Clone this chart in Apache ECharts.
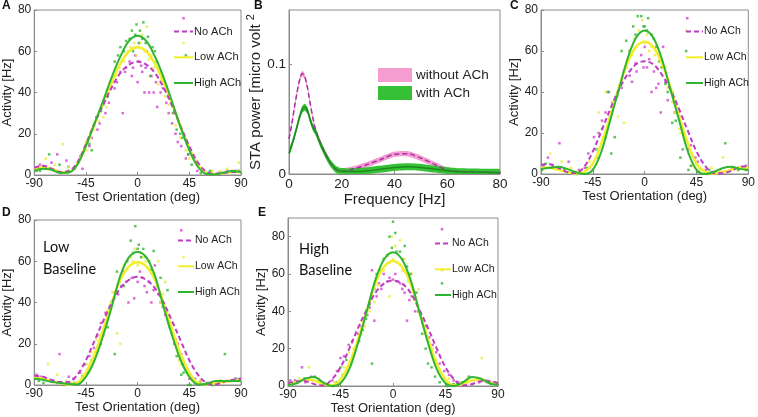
<!DOCTYPE html>
<html>
<head>
<meta charset="utf-8">
<script src="https://cdn.jsdelivr.net/npm/echarts@6/dist/echarts.min.js"></script>
<style>
  html, body { margin: 0; padding: 0; background: #fff; }
  #chart { width: 758px; height: 417px; }
</style>
</head>
<body>
<div id="chart"></div>
<script>
// orientation grid for the fitted tuning curves (deg)
var orient = [-90, -82.5, -75, -67.5, -60, -52.5, -45, -37.5, -30, -22.5, -15, -7.5, 0, 7.5, 15, 22.5, 30, 37.5, 45, 52.5, 60, 67.5, 75, 82.5, 90];

// panel A
var aNo = [3.5, 4.5, 3, 1.5, 1.8, 6, 15, 25, 34, 42.5, 49.5, 53.5, 55, 53.5, 49.5, 42.5, 33.5, 23.5, 14, 6, 1.5, 0.5, 1, 1.5, 1.5];
var aLow = [3, 4, 3, 1.5, 1.3, 5.5, 14.5, 25, 35, 45, 54, 60, 62, 60, 54, 45, 34.5, 23.5, 13, 5, 1, 0.5, 1, 1.5, 1.5];
var aHigh = [2, 3, 2.5, 1, 1.2, 5, 14, 25, 36, 47.5, 57.5, 65, 67.5, 65, 57.5, 47.5, 35.5, 23, 12, 4, 0.5, 0.3, 1.2, 2, 1.5];
// panel C
var cNo = [4.5, 4.8, 3, 1, 0.5, 3.5, 11, 21, 31.5, 41, 48.5, 53.5, 55, 53.5, 48.5, 41, 31.5, 21, 11, 4, 0.5, 0.4, 1.5, 3.5, 3.8];
var cLow = [3, 3, 2, 1, 0.3, 1, 5, 15, 28, 42, 54, 62, 64.5, 62, 54, 42, 28, 15, 5, 1, 0.3, 1, 2, 3, 3];
var cHigh = [2.5, 3, 3.5, 2.5, 1, 0, 2, 11, 26, 41, 56, 66.5, 70, 66.5, 56, 41, 26, 11, 2, 0, 1, 2.8, 3.5, 2.5, 2];
// panel D (low baseline)
var dNo = [4.5, 4, 2.5, 1.5, 1.5, 5, 12, 21.5, 31, 40, 47, 51, 52.5, 51, 47, 40, 31, 21.5, 12, 5, 1, 0.3, 1.5, 2.5, 3];
var dLow = [4, 3, 2, 1, 0.3, 1, 6, 15, 27, 40, 51, 57.5, 59.5, 57.5, 51, 40, 27, 15, 6, 1, 0.3, 1, 1.5, 2, 2.5];
var dHigh = [3, 2.5, 1.5, 1, 0.5, 0.3, 4, 12, 24, 38, 53, 62, 64.5, 62, 53, 38, 24, 12, 4, 0.3, 0.5, 2, 2, 2, 2];
// panel E (high baseline)
var eNo = [1.5, 2.5, 2.5, 1, 0.3, 3.5, 10, 20, 31, 41, 50, 55, 56.5, 55, 50, 41, 31, 20, 10, 3.5, 0.3, 1, 2.5, 2.5, 1.5];
var eLow = [1, 2, 3.5, 3, 1, 0.3, 3.5, 12, 25, 40, 55, 64, 67, 64, 55, 40, 25, 12, 3.5, 0.3, 1, 3, 3.5, 2, 1];
var eHigh = [0.5, 1.5, 4, 4.8, 2, 0, 1.5, 9, 23, 40, 57, 68, 71.7, 68, 57, 40, 23, 9, 1.5, 0, 2, 4.8, 4, 1.5, 0.5];

// single-trial points [deg, Hz]
var aNoPts = [[-85,5],[-80,4],[-75,6],[-70,10],[-62,7],[-55,3],[-48,3],[-42,14],[-35,22],[-28,30],[-20,42],[-15,50],[-13,30],[-10,52],[-5,48],[-2,58],[0,45],[3,53],[6,40],[8,60],[10,40],[14,40],[17,33],[22,42],[27,30],[33,20],[38,14],[40,76],[44,10],[52,2],[70,1],[85,2],
    [-40,18],[-33,25],[-25,35],[-18,45],[-11,50],[-7,55],[-4,52],[1,55],[4,50],[7,52],[12,48],[16,45],[20,40],[25,35],[30,25],[35,16],[42,8],[-60,4],[-88,3],[60,1],[78,2]];
var aLowPts = [[-87,3],[-80,8],[-72,5],[-65,15],[-57,3],[-50,8],[-45,16],[-44,12],[-38,22],[-30,28],[-25,40],[-22,45],[-16,52],[-8,60],[-3,64],[0,62],[4,68],[8,72],[12,58],[15,55],[18,44],[24,38],[30,30],[37,18],[40,64],[45,8],[55,3],[65,2],[78,3],[88,6],
    [-41,18],[-34,26],[-27,33],[-19,48],[-12,55],[-6,62],[-1,58],[2,64],[6,60],[10,56],[14,52],[20,46],[27,34],[33,24],[42,12],[-60,4],[-84,4],[58,1],[72,2]];
var aHighPts = [[-88,2],[-82,4],[-77,10],[-68,5],[-60,2],[-50,9],[-44,16],[-40,12],[-36,28],[-32,31],[-26,38],[-20,55],[-15,62],[-10,65],[-5,70],[-4,60],[-1,73],[2,70],[5,74],[9,67],[11,48],[13,62],[17,55],[22,48],[28,38],[34,22],[39,18],[42,58],[47,5],[55,1],[63,2],[72,1],[82,2],
    [-42,15],[-38,24],[-30,34],[-23,45],[-17,58],[-12,60],[-7,66],[-2,68],[1,64],[4,66],[7,64],[15,60],[19,50],[25,42],[31,30],[37,20],[44,10],[-56,3],[-85,2],[60,1],[88,2]];
var cNoPts = [[-88,4],[-84,8],[-74,15],[-66,6],[-57,2],[-49,10],[-44,18],[-37,26],[-31,40],[-24,38],[-16,52],[-11,45],[-7,50],[-3,58],[0,62],[2,52],[6,40],[10,42],[14,30],[16,62],[18,45],[24,40],[30,28],[34,20],[37,76],[38,12],[46,6],[53,2],[66,1],[82,3],
    [-80,4],[-52,3],[-40,20],[-34,30],[-28,35],[-20,42],[-13,48],[-8,54],[-1,52],[4,56],[8,50],[12,44],[20,36],[26,30],[32,24],[40,14],[44,8],[60,1],[75,2],[88,4]];
var cLowPts = [[-88,3],[-82,10],[-72,6],[-64,3],[-56,1],[-48,6],[-40,30],[-34,40],[-28,35],[-23,28],[-20,45],[-18,25],[-13,60],[-9,66],[-5,70],[-2,75],[2,68],[6,62],[12,55],[18,52],[24,35],[31,20],[36,70],[41,4],[48,2],[58,3],[68,8],[82,2],
    [-85,3],[-58,1],[-42,8],[-36,18],[-31,25],[-25,38],[-16,52],[-11,58],[-7,62],[0,64],[4,60],[9,58],[14,52],[20,42],[26,30],[30,22],[38,10],[44,3],[65,1],[78,3]];
var cHighPts = [[-89,2],[-86,5],[-76,3],[-66,1],[-59,0],[-50,3],[-42,12],[-37,22],[-32,40],[-29,10],[-26,18],[-20,60],[-16,65],[-10,72],[-6,77],[-3,77],[0,72],[3,76],[8,66],[13,55],[18,44],[24,25],[31,8],[36,60],[38,2],[46,1],[56,2],[70,15],[81,2],
    [-80,3],[-70,2],[-45,2],[-40,8],[-34,18],[-30,28],[-24,38],[-18,50],[-13,60],[-8,68],[-1,72],[2,70],[6,68],[10,62],[15,52],[20,40],[27,26],[33,12],[40,4],[62,1],[76,3],[88,2]];
var dNoPts = [[-88,5],[-80,3],[-68,15],[-60,4],[-50,6],[-42,14],[-35,24],[-28,35],[-20,45],[-14,48],[-12,55],[-8,40],[-3,42],[0,50],[4,52],[8,45],[12,40],[15,58],[18,44],[24,34],[30,25],[35,20],[38,75],[40,10],[45,3],[55,2],[70,1],[85,3],
    [-84,4],[-56,3],[-46,10],[-38,18],[-32,30],[-24,38],[-17,44],[-10,50],[-5,52],[2,55],[6,48],[10,50],[14,46],[20,40],[27,30],[33,22],[38,15],[43,8],[50,3],[62,1],[78,2],[89,3]];
var dLowPts = [[-86,3],[-78,10],[-70,5],[-62,2],[-52,1],[-44,10],[-36,22],[-28,30],[-22,45],[-18,25],[-15,20],[-12,58],[-6,62],[-2,66],[2,64],[7,60],[12,56],[18,60],[20,40],[24,50],[30,30],[36,12],[40,62],[46,5],[55,2],[65,1],[80,2],
    [-88,4],[-58,1],[-48,5],[-40,16],[-33,24],[-26,36],[-20,42],[-14,52],[-9,56],[-4,60],[0,58],[4,62],[9,57],[14,54],[22,44],[27,34],[33,22],[38,10],[43,6],[52,1],[72,2],[88,2]];
var dHighPts = [[-89,3],[-82,1],[-74,2],[-64,0],[-55,1],[-48,4],[-40,12],[-32,20],[-26,28],[-20,15],[-18,55],[-12,48],[-6,70],[-2,77],[1,68],[5,66],[10,60],[14,65],[20,52],[26,46],[32,20],[38,5],[44,0],[46,0],[54,1],[65,0],[76,15],[86,3],
    [-86,2],[-70,1],[-52,1],[-44,6],[-36,16],[-30,24],[-23,40],[-16,50],[-9,60],[-4,64],[0,66],[3,62],[7,62],[12,56],[17,48],[22,38],[28,28],[34,14],[40,6],[50,1],[60,1],[72,2],[82,2]];
var eNoPts = [[-88,3],[-78,10],[-70,5],[-62,2],[-52,3],[-45,15],[-38,22],[-30,28],[-22,38],[-18,62],[-16,35],[-12,55],[-8,60],[-3,58],[2,60],[6,55],[10,50],[12,35],[16,48],[22,40],[28,32],[34,22],[40,12],[42,84],[48,6],[56,2],[68,1],[80,3],
    [-84,3],[-75,2],[-58,1],[-48,8],[-42,16],[-35,24],[-27,32],[-20,42],[-14,48],[-10,52],[-5,56],[0,57],[4,56],[8,52],[14,46],[19,40],[25,34],[31,26],[37,18],[44,8],[52,3],[62,1],[74,2],[86,2]];
var eLowPts = [[-87,2],[-80,4],[-72,10],[-64,3],[-55,1],[-46,8],[-38,18],[-30,25],[-24,32],[-16,45],[-10,62],[-5,70],[-3,48],[-1,80],[2,75],[6,78],[10,68],[16,60],[20,50],[22,52],[28,30],[34,20],[42,62],[48,4],[58,2],[70,3],[76,15],[88,2],
    [-84,2],[-68,3],[-58,1],[-50,2],[-42,10],[-34,20],[-27,28],[-20,40],[-13,54],[-8,62],[-3,66],[0,68],[4,66],[8,62],[13,56],[18,46],[24,38],[31,22],[37,14],[44,4],[52,1],[64,3],[80,2]];
var eHighPts = [[-89,1],[-82,2],[-72,4],[-62,1],[-52,0],[-45,10],[-40,14],[-32,20],[-26,30],[-20,44],[-18,12],[-14,60],[-8,68],[-3,80],[0,88],[2,82],[6,72],[10,75],[15,60],[20,50],[25,28],[30,12],[36,5],[42,55],[46,0],[52,1],[60,2],[72,4],[84,1],
    [-86,1],[-76,4],[-67,5],[-57,1],[-48,2],[-43,6],[-36,12],[-29,24],[-23,36],[-16,52],[-11,62],[-5,70],[-1,74],[3,72],[8,68],[12,64],[17,52],[22,40],[28,20],[33,10],[40,2],[55,1],[65,5],[76,3],[88,1]];

// panel B: STA power spectrum
var freqs = [0, 1, 2, 3, 4, 5, 6, 7, 8, 9, 10, 12, 14, 16, 18, 20, 25, 30, 35, 40, 45, 50, 55, 60, 65, 70, 75, 80];
var powWithout = [0.032, 0.045, 0.06, 0.074, 0.086, 0.092, 0.089, 0.079, 0.065, 0.052, 0.041, 0.028, 0.018, 0.009, 0.004, 0.0025, 0.005, 0.009, 0.0135, 0.018, 0.0185, 0.0145, 0.009, 0.0035, 0.0022, 0.0018, 0.0014, 0.0012];
var powWith = [0.019, 0.026, 0.034, 0.043, 0.052, 0.059, 0.061, 0.058, 0.05, 0.043, 0.039, 0.027, 0.017, 0.009, 0.004, 0.0022, 0.0022, 0.003, 0.0045, 0.006, 0.0066, 0.006, 0.0045, 0.003, 0.002, 0.0018, 0.0015, 0.0012];
var errWithout = 0.0025;
var errWith = 0.0032;

var MAG = '#c03cc0', YEL = '#f2ee2e', GRN = '#2fb52f';
var PINK = '#f59dd0', GBAND = '#35c035';
var FONT = 'Liberation Sans, Arial, sans-serif';

var myChart = echarts.init(document.getElementById('chart'));

var grids = [
    { left: 31, top: 10, width: 210, height: 165 },   // A
    { left: 289, top: 10, width: 211, height: 164 },  // B
    { left: 541, top: 10, width: 211, height: 164 },  // C
    { left: 31, top: 220, width: 210, height: 165 },  // D
    { left: 288, top: 218, width: 210, height: 168 }  // E
];
var gridOpts = grids.map(function (g) {
    return Object.assign({ show: true, borderColor: '#8c8c8c', borderWidth: 1, backgroundColor: 'transparent' }, g);
});

var axisBase = {
    axisLine: { show: true, onZero: false, lineStyle: { color: '#8c8c8c' } },
    axisTick: { show: true, inside: true, length: 3, lineStyle: { color: '#8c8c8c' } },
    splitLine: { show: false },
    axisLabel: { color: '#222', fontSize: 12, fontFamily: FONT, margin: 3 },
    nameTextStyle: { color: '#222', fontSize: 13, fontFamily: FONT }
};
function ax(extra) {
    return echarts.util.merge(echarts.util.clone(axisBase), extra, true);
}
function orientX(gi, gap) {
    return ax({ type: 'value', gridIndex: gi, min: -90, max: 90, interval: 45, name: 'Test Orientation (deg)', nameLocation: 'middle', nameGap: gap });
}
function actY(gi, max, gap) {
    return ax({ type: 'value', gridIndex: gi, min: 0, max: max, interval: 20, name: 'Activity [Hz]', nameLocation: 'middle', nameGap: gap, axisLabel: { showMaxLabel: max === 80 } });
}

var xAxes = [
    orientX(0, 15.5),
    ax({ type: 'value', gridIndex: 1, min: 0, max: 80, interval: 20, name: 'Frequency [Hz]', nameLocation: 'middle', nameGap: 17, nameTextStyle: { fontSize: 15 }, axisLabel: { fontSize: 13.5 } }),
    orientX(2, 14.5),
    orientX(3, 16),
    orientX(4, 16)
];
var yAxes = [
    actY(0, 80, 17),
    ax({ type: 'value', gridIndex: 1, min: 0, max: 0.15, interval: 0.1, name: 'STA power [micro volt {sup|2}', nameLocation: 'middle', nameGap: 16,
         nameTextStyle: { fontSize: 15, rich: { sup: { fontSize: 11, verticalAlign: 'top', padding: [0, 0, 9, 0] } } },
         axisLabel: { fontSize: 13.5, showMaxLabel: false } }),
    actY(2, 80, 18),
    actY(3, 80, 17.5),
    actY(4, 90, 18)
];

function curve(name, ys, gi, color, dashed, width) {
    return {
        type: 'line', name: name, xAxisIndex: gi, yAxisIndex: gi,
        data: orient.map(function (x, i) { return [x, ys[i]]; }),
        smooth: 0.35, symbol: 'none', silent: true,
        itemStyle: { color: color },
        lineStyle: { color: color, width: width, type: dashed ? [5, 3] : 'solid' },
        z: 4
    };
}
function dots(pts, gi, color) {
    return {
        type: 'scatter', name: 'pts', xAxisIndex: gi, yAxisIndex: gi, data: pts,
        symbol: 'rect', symbolSize: 2.5, silent: true, itemStyle: { color: color }, z: 2
    };
}
function tuning(gi, no, low, high, noPts, lowPts, highPts) {
    return [
        dots(noPts, gi, '#d044d0'), dots(lowPts, gi, '#eeea3a'), dots(highPts, gi, '#33b533'),
        curve('Low ACh', low, gi, YEL, false, 2.5),
        curve('No ACh', no, gi, MAG, true, 2),
        curve('High ACh', high, gi, GRN, false, 2)
    ];
}

// error band in B: polygon between center+err and center-err, through the axes' coord()
function band(name, center, err, color) {
    return {
        type: 'custom', name: name, xAxisIndex: 1, yAxisIndex: 1, data: [[0, 0]], silent: true, clip: true, z: 1,
        itemStyle: { color: color },
        renderItem: function (params, api) {
            var pts = [];
            for (var i = 0; i < freqs.length; i++) pts.push(api.coord([freqs[i], center[i] + err]));
            for (var j = freqs.length - 1; j >= 0; j--) pts.push(api.coord([freqs[j], Math.max(0, center[j] - err)]));
            return { type: 'polygon', shape: { points: pts, smooth: 0.2 }, style: { fill: color } };
        }
    };
}

var series = [].concat(
    tuning(0, aNo, aLow, aHigh, aNoPts, aLowPts, aHighPts),
    [
        band('without ACh', powWithout, errWithout, PINK),
        band('with ACh', powWith, errWith, GBAND),
        { type: 'line', name: 'withoutLine', xAxisIndex: 1, yAxisIndex: 1, symbol: 'none', smooth: 0.3, silent: true,
          data: freqs.map(function (f, i) { return [f, powWithout[i]]; }), lineStyle: { color: '#a52fa5', width: 1.5, type: [5, 3] }, z: 3 },
        { type: 'line', name: 'withLine', xAxisIndex: 1, yAxisIndex: 1, symbol: 'none', smooth: 0.3, silent: true,
          data: freqs.map(function (f, i) { return [f, powWith[i]]; }), lineStyle: { color: '#1e8a1e', width: 1.5 }, z: 3 }
    ],
    tuning(2, cNo, cLow, cHigh, cNoPts, cLowPts, cHighPts),
    tuning(3, dNo, dLow, dHigh, dNoPts, dLowPts, dHighPts),
    tuning(4, eNo, eLow, eHigh, eNoPts, eLowPts, eHighPts)
);

function tuneLegend(left, top, w, fs) {
    return {
        orient: 'vertical', left: left, top: top, itemWidth: w, itemHeight: 14, itemGap: 14.5,
        selectedMode: false, data: ['No ACh', 'Low ACh', 'High ACh'],
        itemStyle: { opacity: 0 },
        textStyle: { color: '#222', fontSize: fs, fontFamily: FONT, padding: [0, 0, 0, -4] }
    };
}

var letter = function (t, x, y) {
    return { type: 'text', left: x, top: y, style: { text: t, fontSize: 12, fontWeight: 'bold', fontFamily: FONT, fill: '#111' } };
};
var note = function (t, x, y) {
    return { type: 'text', left: x, top: y, style: { text: t, fontSize: 14.5, fontFamily: 'Lato, Open Sans, sans-serif', fill: '#111' } };
};

var option = {
    animation: false,
    backgroundColor: '#fff',
    textStyle: { fontFamily: FONT },
    grid: gridOpts,
    xAxis: xAxes,
    yAxis: yAxes,
    legend: [
        tuneLegend(168, 21, 19, 11),
        {
            orient: 'vertical', left: 373, top: 63, itemWidth: 34, itemHeight: 14, itemGap: 4, selectedMode: false,
            data: [
                { name: 'without ACh', icon: 'rect', itemStyle: { color: PINK } },
                { name: 'with ACh', icon: 'rect', itemStyle: { color: GBAND } }
            ],
            textStyle: { color: '#222', fontSize: 13.5, fontFamily: FONT, padding: [0, 0, 0, -1] }
        },
        tuneLegend(680, 21, 17, 10.5),
        tuneLegend(172, 230, 16, 10.5),
        tuneLegend(429, 233, 16, 10.5)
    ],
    graphic: [
        letter('A', 2, 0), letter('B', 254, 0), letter('C', 510, 0), letter('D', 2, 207), letter('E', 258, 207),
        note('Low', 43, 240), note('Baseline', 43, 262),
        note('High', 299, 242), note('Baseline', 299, 263)
    ],
    series: series
};
myChart.setOption(option);
</script>
</body>
</html>
